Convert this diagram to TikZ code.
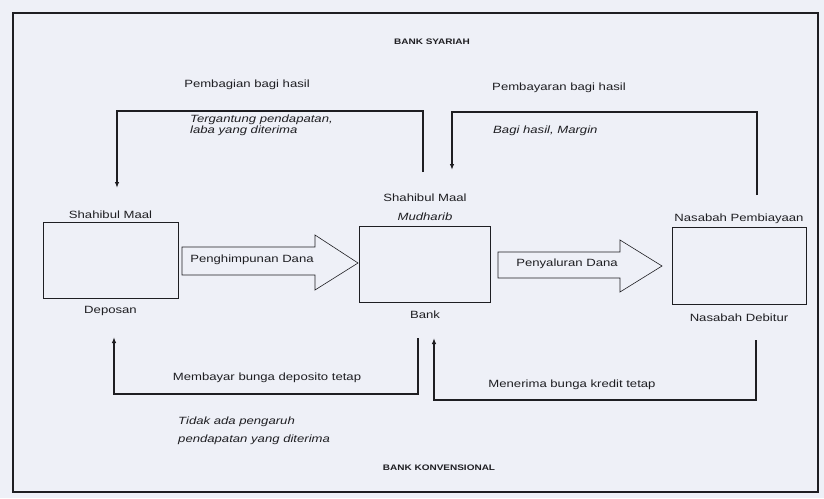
\documentclass[tikz,border=0pt]{standalone}
\usepackage{fontspec}
\setmainfont{Liberation Sans}[FakeStretch=1.25]
\usepackage{tikz}
\usetikzlibrary{arrows.meta,positioning,calc}
\definecolor{paper}{RGB}{238,240,247}
\definecolor{ink}{RGB}{30,30,34}
\tikzset{
  party/.style={draw=ink, line width=1pt, minimum width=135pt, minimum 
  height=76pt},
  caption/.style={inner sep=1pt, text=ink, font=\fontsize{10.5}{11.5}\selectfont},
  note/.style={caption, font=\fontsize{10.5}{11.5}\selectfont\itshape, 
  align=left, anchor=west},
  flow/.style={draw=ink, line width=1.2pt, -{Latex[length=6pt,width=4.5pt]}},
  bigarrow/.style={draw=ink, line width=0.6pt, fill=paper},
  title/.style={text=ink, font=\fontsize{8}{9}\selectfont\bfseries}
}
\begin{document}
\begin{tikzpicture}[x=1pt,y=-1pt]
\fill[paper] (0,0) rectangle (824,498);
\useasboundingbox (0,0) rectangle (824,498);
\draw[ink, line width=1.3pt] (13,13) rectangle (818,492);

\node[title] (syariah) at (432,42) {BANK SYARIAH};
\node[title] (konvensional) at (439,468) {BANK KONVENSIONAL};

% para pihak
\node[party] (deposan) at (110.5,260) {};
\node[party, minimum width=131pt] (bank) at (425,264) {};
\node[party, minimum width=134pt, minimum height=77pt] (debitur) at (739,265.5) {};

\node[caption, above=2pt of deposan] (deposan-t) {Shahibul Maal};
\node[caption, below=7pt of deposan] (deposan-b) {Deposan};
\node[caption, above=4pt of bank, align=center] (bank-t) 
  {Shahibul Maal\\[7pt]\textit{Mudharib}};
\node[caption, below=7pt of bank] (bank-b) {Bank};
\node[caption, above=2pt of debitur] (debitur-t) {Nasabah Pembiayaan};
\node[caption, below=8pt of debitur] (debitur-b) {Nasabah Debitur};

% aliran dana
\draw[bigarrow] (182,247) -- (315,247) -- (315,235) -- (358,263) 
  -- (315,290) -- (315,275) -- (182,275) -- cycle;
\node[caption] (himpun) at (252,260) {Penghimpunan Dana};
\draw[bigarrow] (498,252) -- (620,252) -- (620,240) -- (662,266) 
  -- (620,292) -- (620,278) -- (498,278) -- cycle;
\node[caption] (salur) at (567,264) {Penyaluran Dana};

% bank syariah
\coordinate (tl-a) at (423,172);
\coordinate (tl-b) at (117,188);
\coordinate (tr-a) at (757,195);
\coordinate (tr-b) at (452,170);
\draw[flow] (tl-a) -- ++(0,-61) -| (tl-b);
\draw[flow] (tr-a) -- ++(0,-83) -| (tr-b);
\node[caption] (bagi1) at (247,85) {Pembagian bagi hasil};
\node[note] (bagi1-ket) at (189,125.5) {Tergantung pendapatan,\\laba yang diterima};
\node[caption] (bagi2) at (559,88) {Pembayaran bagi hasil};
\node[note] (bagi2-ket) at (492,131) {Bagi hasil, Margin};

% bank konvensional
\coordinate (bl-a) at (418,338);
\coordinate (bl-b) at (114,337);
\coordinate (br-a) at (756,340);
\coordinate (br-b) at (434,338);
\draw[flow] (bl-a) -- ++(0,56) -| (bl-b);
\draw[flow] (br-a) -- ++(0,60) -| (br-b);
\node[caption] (bunga1) at (267,378) {Membayar bunga deposito tetap};
\node[note] (bunga1-ket) at (177,431) {Tidak ada pengaruh\\[7pt]pendapatan yang diterima};
\node[caption] (bunga2) at (572,385) {Menerima bunga kredit tetap};
\end{tikzpicture}
\end{document}
